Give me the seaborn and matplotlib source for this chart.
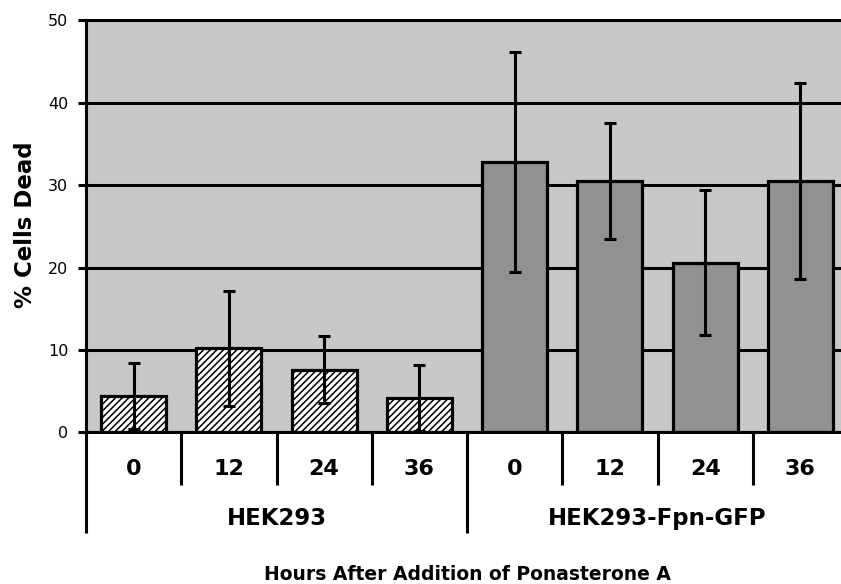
import numpy as np
import pandas as pd
import matplotlib
matplotlib.use("Agg")
import matplotlib.pyplot as plt
import matplotlib.transforms as mtransforms
import seaborn as sns

# ---- data ----
hours = ["0", "12", "24", "36"]
groups = ["HEK293", "HEK293-Fpn-GFP"]
hek293_mean = [4.4, 10.2, 7.6, 4.2]
hek293_sd = [4.0, 7.0, 4.1, 4.0]
fpn_mean = [32.8, 30.5, 20.6, 30.5]
fpn_sd = [13.3, 7.0, 8.8, 11.9]
yticks = [0, 10, 20, 30, 40, 50]
ylabel = "% Cells Dead"
xlabel = "Hours After Addition of Ponasterone A"

sns.set_theme(style="white")
plt.rcParams["font.family"] = ["DejaVu Sans"]
plt.rcParams["hatch.linewidth"] = 1.1
plt.rcParams["hatch.color"] = "#333333"
for k in ["text.color", "axes.labelcolor", "xtick.color", "ytick.color"]:
    plt.rcParams[k] = "black"

df = pd.DataFrame({
    "cond": [f"{g}|{h}" for g in groups for h in hours],
    "group": [g for g in groups for h in hours],
    "hours": hours * 2,
    "value": hek293_mean + fpn_mean,
    "sd": hek293_sd + fpn_sd,
})

W, H = 841, 584
fig = plt.figure(figsize=(W / 100, H / 100), dpi=100)
ax = fig.add_axes([86 / W, (H - 432.3) / H, 762 / W, 412 / H])
ax.set_facecolor("#C8C8C8")

sns.barplot(data=df, x="cond", y="value", hue="group",
            palette={"HEK293": "white", "HEK293-Fpn-GFP": "#919191"},
            dodge=False, width=0.68, errorbar=None, edgecolor="black",
            linewidth=2.3, legend=False, ax=ax, zorder=2)
for bar in ax.containers[0]:
    bar.set_hatch("/////")

xpos = np.arange(len(df))
ax.errorbar(xpos, df["value"], yerr=df["sd"], fmt="none", ecolor="black",
            elinewidth=2.2, capsize=4.3, capthick=2.2, zorder=4)

ax.set_xlim(-0.5, 7.5)
ax.set_ylim(0, 50)
ax.set_yticks(yticks)
ax.yaxis.grid(True, color="black", linewidth=2.2)
ax.xaxis.grid(False)
ax.set_axisbelow(True)

for s in ax.spines.values():
    s.set_color("black")
    s.set_linewidth(2.2)

ax.tick_params(axis="y", left=True, length=5.8, width=2.2, pad=7,
               labelsize=11.5, color="black", labelcolor="black",
               direction="out")
ax.set_xticks(xpos)
ax.set_xticklabels(df["hours"], fontsize=16, fontweight="bold")
ax.tick_params(axis="x", bottom=False, length=0, pad=19,
               labelcolor="black")

trans = mtransforms.blended_transform_factory(ax.transData, ax.transAxes)
for b in [0.5, 1.5, 2.5, 4.5, 5.5, 6.5]:
    ax.plot([b, b], [0, -0.128], color="black", lw=2.2, transform=trans,
            clip_on=False, solid_capstyle="butt")
for b in [-0.5, 3.5, 7.5]:
    ax.plot([b, b], [0, -0.244], color="black", lw=2.2, transform=trans,
            clip_on=False, solid_capstyle="butt")

for i, g in enumerate(groups):
    ax.text(1.5 + 4 * i, -0.225, g, transform=trans, ha="center",
            va="baseline", fontsize=16.5, fontweight="bold", color="black")

ax.set_xlabel(xlabel, fontsize=13.5, fontweight="bold", color="black")
ax.xaxis.set_label_coords(0.5, -0.358)
ax.xaxis.label.set_va("baseline")

ax.set_ylabel(ylabel, fontsize=16.5, fontweight="bold", color="black")
ax.yaxis.set_label_coords(-0.080, 0.503)
ax.yaxis.label.set_va("center")

fig.savefig("out.png", dpi=100)
